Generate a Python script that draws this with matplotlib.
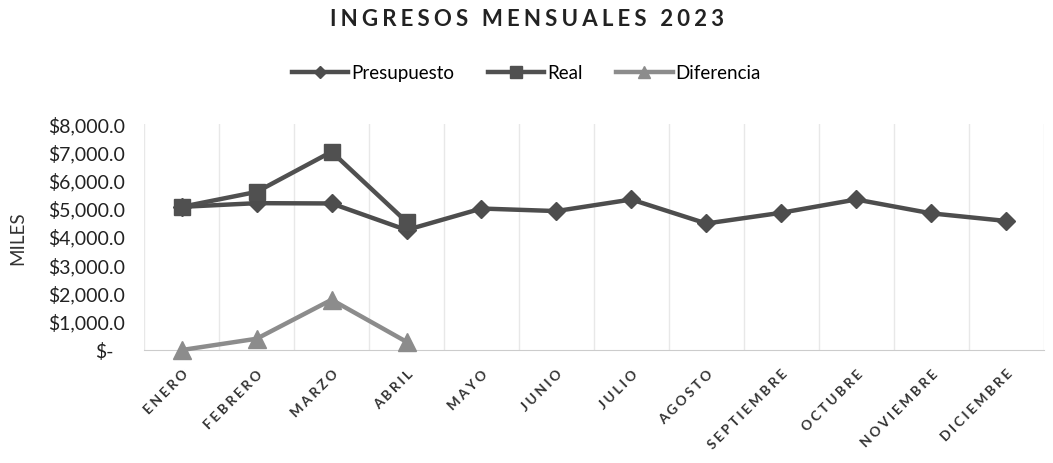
import matplotlib
matplotlib.use("Agg")
import matplotlib.pyplot as plt
import matplotlib.transforms as mtransforms
from matplotlib.ticker import FuncFormatter

months = ["ENERO", "FEBRERO", "MARZO", "ABRIL", "MAYO", "JUNIO", "JULIO",
          "AGOSTO", "SEPTIEMBRE", "OCTUBRE", "NOVIEMBRE", "DICIEMBRE"]
presupuesto = [5070, 5200, 5190, 4250, 5010, 4920, 5330, 4480, 4860, 5330, 4840, 4570]
real = [5070, 5600, 7020, 4540]
diferencia = [0, 400, 1780, 290]
yticks = [0, 1000, 2000, 3000, 4000, 5000, 6000, 7000, 8000]
title = "INGRESOS MENSUALES 2023"

plt.rcParams['font.family'] = ['Lato', 'DejaVu Sans']

def spaced(s, sep=" "):
    return sep.join(list(s))

fig = plt.figure(figsize=(10.53, 4.63), dpi=100)
ax = fig.add_axes([0.137, 0.244, 0.854, 0.488])

x = list(range(len(months)))
ax.plot(x, presupuesto, color="#4d4d4d", lw=3.2, marker="D", ms=9,
        label="Presupuesto", zorder=3)
ax.plot(x[:len(real)], real, color="#505050", lw=3.2, marker="s", ms=12,
        label="Real", zorder=4)
ax.plot(x[:len(diferencia)], diferencia, color="#8c8c8c", lw=3.2, marker="^",
        ms=13, label="Diferencia", zorder=4, clip_on=False)

ax.set_xlim(-0.5, len(months) - 0.5)
ax.set_ylim(0, 8000)
ax.set_yticks(yticks)

def fmt(v, pos):
    if v == 0:
        return "$-"
    return "${:,.1f}".format(v)
ax.yaxis.set_major_formatter(FuncFormatter(fmt))

ax.set_xticks(x)
ax.set_xticklabels([spaced(m, "\u2009\u200a") for m in months], rotation=45,
                   ha="right", rotation_mode="anchor",
                   fontsize=9.8, fontweight="bold", color="#333333")
ax.tick_params(axis="y", labelsize=14, length=0, pad=14, colors="#222222")
ax.tick_params(axis="x", length=0, pad=13)

fig.canvas.draw()
zero_lbl = ax.get_yticklabels()[0]
zero_lbl.set_transform(zero_lbl.get_transform() +
                       mtransforms.ScaledTranslation(-11 / 100, 0, fig.dpi_scale_trans))

# vertical gridlines between categories
for b in range(len(months) + 1):
    ax.axvline(b - 0.5, color="#e8e8e8", lw=1, zorder=0)

for s in ["top", "right", "left"]:
    ax.spines[s].set_visible(False)
ax.spines["bottom"].set_color("#cccccc")

fig.text(18 / 1053, 1 - 238 / 463, "MILES", rotation=90, ha="center",
         va="center", fontsize=13.5, color="#333333")

fig.text(0.5, 0.958, spaced(title, "\u2009\u200a"), ha="center", va="center",
         fontsize=16, fontweight="bold", color="#222222")

leg = fig.legend(loc="center", bbox_to_anchor=(0.5, 0.842), ncol=3,
                 frameon=False, fontsize=13.5, handlelength=3.0,
                 columnspacing=1.8, handletextpad=0.15, markerscale=0.7)

fig.savefig("out.png", dpi=100)
